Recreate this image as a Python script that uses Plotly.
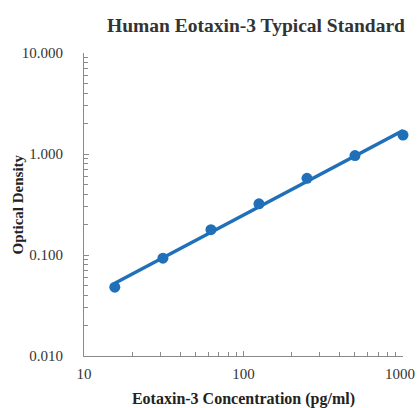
import numpy as np
import plotly.graph_objects as go

concentration = [15.6, 31.25, 62.5, 125, 250, 500, 1000]
optical_density = [0.048, 0.093, 0.178, 0.321, 0.575, 0.964, 1.54]

title_text = "Human Eotaxin-3 Typical Standard"
x_title = "Eotaxin-3 Concentration (pg/ml)"
y_title = "Optical Density"
x_tickvals = [10, 100, 1000]
y_tickvals = [0.01, 0.1, 1, 10]

# log-log regression trendline from the data
lx = np.log10(concentration)
ly = np.log10(optical_density)
slope, intercept = np.polyfit(lx, ly, 1)
fit_x = np.array([min(concentration), max(concentration)])
fit_y = 10 ** (intercept + slope * np.log10(fit_x))

color = "#1f70b8"
serif = "Liberation Serif, Times New Roman, serif"

fig = go.Figure()
fig.add_trace(go.Scatter(x=fit_x, y=fit_y, mode="lines", cliponaxis=False,
                         line=dict(color=color, width=3.4), hoverinfo="skip"))
fig.add_trace(go.Scatter(x=concentration, y=optical_density, mode="markers",
                         cliponaxis=False, marker=dict(color=color, size=11)))

# the last x tick label is drawn as an annotation so it stays inside the page
x_ticktext = [str(v) for v in x_tickvals[:-1]] + [""]
last_label = dict(text=str(x_tickvals[-1]), xref="x", yref="paper",
                  x=np.log10(x_tickvals[-1]), y=0, xanchor="center", yanchor="middle",
                  xshift=-3, yshift=-18, showarrow=False,
                  font=dict(family=serif, size=15, color="#333333"))

fig.update_layout(
    width=419, height=408,
    margin=dict(l=84, r=16, t=53, b=52),
    paper_bgcolor="white", plot_bgcolor="white",
    showlegend=False,
    font=dict(family=serif, color="#333333", size=15),
    title=dict(text="<b>" + title_text + "</b>", x=0.611, xanchor="center",
               y=0.939, yanchor="middle",
               font=dict(family=serif, size=19.5, color="#333333")),
    annotations=[dict(text="<b>" + y_title + "</b>", xref="paper", yref="paper",
                      x=-0.207, y=0.5, xanchor="center", yanchor="middle",
                      textangle=-90, showarrow=False,
                      font=dict(family=serif, size=15, color="#222222")),
                 last_label],
)
fig.update_xaxes(
    type="log", range=[1, 3], tickvals=x_tickvals, ticktext=x_ticktext,
    showgrid=False, zeroline=False, showline=True, linecolor="#8a8a8a", linewidth=1.2,
    ticks="inside", ticklen=5, tickcolor="#8a8a8a",
    minor=dict(ticks="inside", ticklen=4, tickcolor="#8a8a8a", dtick="D1", showgrid=False),
    tickfont=dict(family=serif, size=15, color="#333333"),
    ticklabelstandoff=4,
    automargin=False,
    title=dict(text="<b>" + x_title + "</b>", standoff=12,
               font=dict(family=serif, size=16, color="#222222")),
)
fig.update_yaxes(
    type="log", range=[-2, 1], tickvals=y_tickvals,
    ticktext=["%.3f" % v for v in y_tickvals],
    showgrid=False, zeroline=False, showline=True, linecolor="#8a8a8a", linewidth=1.2,
    ticks="inside", ticklen=5, tickcolor="#8a8a8a",
    minor=dict(ticks="inside", ticklen=4, tickcolor="#8a8a8a", dtick="D1", showgrid=False),
    tickfont=dict(family=serif, size=15, color="#333333"),
    ticklabelstandoff=17,
    ticklabeloverflow="allow",
    automargin=False,
)
fig.write_html("out.html", config={"displayModeBar": False},
               post_script="document.body.style.margin='0';document.body.style.overflow='hidden';")
